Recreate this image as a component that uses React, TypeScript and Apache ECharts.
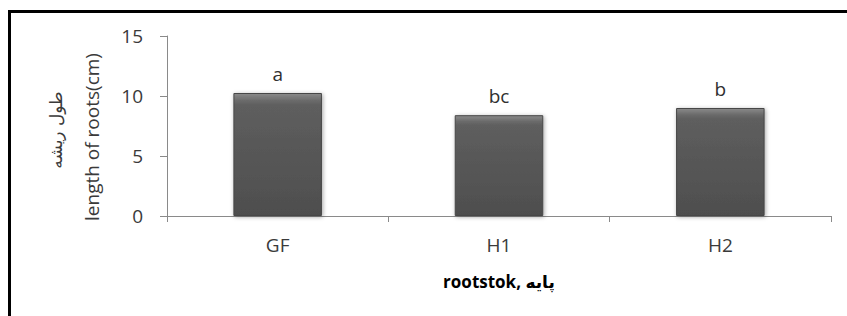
import React, { useEffect, useRef } from "react";
import * as echarts from "echarts";

const categories = ["GF", "H1", "H2"];
const rootLength = [10.25, 8.4, 9.0];
const letters = ["a", "bc", "b"];
const yTicks = { min: 0, max: 15, interval: 5 };
const xTitle = "rootstok, پایه";
const yTitleFa = "طول ریشه";
const yTitleEn = "length of roots(cm)";

export default function App() {
  const ref = useRef<HTMLDivElement>(null);
  useEffect(() => {
    if (!ref.current) return;
    const chart = echarts.init(ref.current, null, { renderer: "svg" });
    const font = "'Open Sans', 'DejaVu Sans', sans-serif";
    chart.setOption({
      animation: false,
      backgroundColor: "#ffffff",
      textStyle: { fontFamily: font },
      graphic: [
        {
          type: "polyline",
          shape: { points: [[9.5, 330], [9.5, 11.5], [860, 11.5]] },
          style: { stroke: "#000", lineWidth: 3, fill: "none" },
          silent: true,
        },
        {
          type: "text",
          x: 56,
          y: 130,
          rotation: Math.PI / 2,
          style: {
            text: yTitleFa,
            fontSize: 17,
            fontFamily: "'DejaVu Sans', sans-serif",
            fill: "#3a3a3a",
            align: "center",
            verticalAlign: "middle",
          },
          silent: true,
        },
        {
          type: "text",
          x: 92,
          y: 137,
          rotation: Math.PI / 2,
          style: {
            text: yTitleEn,
            fontSize: 19,
            fontFamily: font,
            fill: "#3a3a3a",
            align: "center",
            verticalAlign: "middle",
          },
          silent: true,
        },
      ],
      grid: { left: 167, right: 16, top: 36, bottom: 100 },
      xAxis: {
        type: "category",
        data: categories,
        axisLine: { show: true, lineStyle: { color: "#8a8a8a", width: 1 } },
        axisTick: { show: true, alignWithLabel: false, length: 6, lineStyle: { color: "#8a8a8a" } },
        axisLabel: { color: "#3a3a3a", fontSize: 19, margin: 19, fontFamily: font },
        name: xTitle,
        nameLocation: "middle",
        nameGap: 57,
        nameTextStyle: { color: "#000", fontSize: 17, fontWeight: "bold", fontFamily: font },
      },
      yAxis: {
        type: "value",
        min: yTicks.min,
        max: yTicks.max,
        interval: yTicks.interval,
        splitLine: { show: false },
        axisLine: { show: true, lineStyle: { color: "#8a8a8a", width: 1 } },
        axisTick: { show: true, length: 7, lineStyle: { color: "#8a8a8a" } },
        axisLabel: { color: "#3a3a3a", fontSize: 19, margin: 24, fontFamily: font },
      },
      series: [
        {
          type: "bar",
          data: rootLength,
          barWidth: "40%",
          itemStyle: {
            color: {
              type: "linear",
              x: 0, y: 0, x2: 0, y2: 1,
              colorStops: [
                { offset: 0, color: "#8a8a8a" },
                { offset: 0.06, color: "#6a6a6a" },
                { offset: 0.1, color: "#5e5e5e" },
                { offset: 1, color: "#4e4e4e" },
              ],
            },
            borderColor: "#474747",
            borderWidth: 1,
            shadowColor: "rgba(0,0,0,0.35)",
            shadowBlur: 4,
            shadowOffsetX: 1,
            shadowOffsetY: 1,
          },
          label: {
            show: true,
            position: "top",
            distance: 10,
            color: "#303030",
            fontSize: 19,
            fontFamily: font,
            formatter: (p: any) => letters[p.dataIndex],
          },
        },
      ],
    });
    return () => chart.dispose();
  }, []);
  return (
    <div
      ref={ref}
      style={{ position: "fixed", left: 0, top: 0, width: 847, height: 316 }}
    />
  );
}
